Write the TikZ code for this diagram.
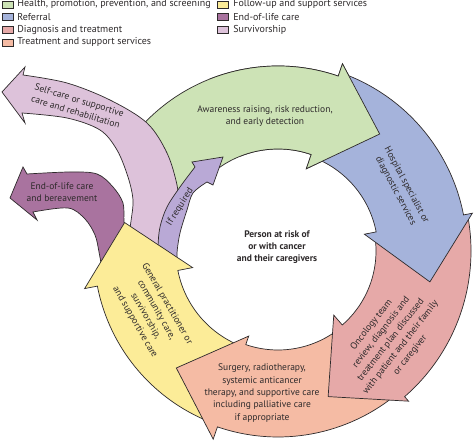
\documentclass[tikz,border=0pt]{standalone}
\usepackage{fontspec}
\setmainfont{PT Sans}
\usetikzlibrary{calc}

\definecolor{inkcol}{HTML}{2E2A2B}
\definecolor{healthgreen}{HTML}{CDE3B6}
\definecolor{referralblue}{HTML}{A5B3DB}
\definecolor{diagpink}{HTML}{E6A9A8}
\definecolor{treatsalmon}{HTML}{F5BBA4}
\definecolor{followyellow}{HTML}{FCEC98}
\definecolor{endpurple}{HTML}{A9739F}
\definecolor{survlilac}{HTML}{DDC2DA}
\definecolor{ifreqlav}{HTML}{B9A9D6}

\tikzset{every picture/.style={line width=0.7pt}}
\tikzset{
	flow/.style={draw=inkcol},
	lbl/.style={font=\fontsize{9.5}{12.3}\selectfont, text=inkcol, align=center, inner sep=0pt},
	legbox/.style={draw=inkcol, line width=0.5pt, minimum width=11pt, minimum height=7pt, inner sep=0pt},
	legtext/.style={font=\fontsize{10}{11}\selectfont, text=inkcol, anchor=west, inner sep=0pt}
}

\begin{document}
\begin{tikzpicture}[x=1pt,y=1pt]
				\fill[white] (0,0) rectangle (474,441);
				\useasboundingbox (0,0) rectangle (474,441);
				\coordinate (C) at (278,190); %ring centre
				%awareness (tail hidden later)
				\filldraw[flow,fill=healthgreen] ($(C)+(137:185)$) arc[start angle=137,end angle=71,radius=185] -- ($(C)+(71:198)$) -- ($(C)+(49:155)$) -- ($(C)+(71:87)$) -- ($(C)+(71:102)$) arc[start angle=71,end angle=127,radius=102] -- (205,263) -- (172,246) -- (140,311) -- cycle;
				%self-care
				\filldraw[flow,fill=survlilac] (23,366) -- (25,374) -- (2,349) -- (25,318) -- (22,328) -- plot[smooth,tension=0.55] coordinates {(22,328) (67,323) (100,311) (117,291) (128,264) (133,241) (131,220) (128,201)} -- (175,179) -- plot[smooth,tension=0.55] coordinates {(175,179) (176,201) (178,236) (177,256) (167,288) (147,318) (110,341) (67,358) (23,366)} -- cycle;
				%end of life
				\filldraw[flow,fill=endpurple] (27,267) -- (23,274) -- (10,243) -- (37,221) -- (33,229) -- plot[smooth,tension=0.55] coordinates {(33,229) (68,233) (85,222) (95,206) (99,189) (103,166)} -- (120,170) -- plot[smooth,tension=0.55] coordinates {(120,170) (126,205) (124,219) (123,238) (113,254) (97,267) (70,269) (27,267)} -- cycle;
				%if required
				\filldraw[flow,fill=ifreqlav] (195,274) -- plot[smooth,tension=0.55] coordinates {(195,274) (180,254) (167,234) (160,214) (158,194) (159,178)} -- (178,176) -- plot[smooth,tension=0.55] coordinates {(178,176) (177,188) (180,208) (187,231) (193,248) (207,259)} -- (213,256) -- (223,284) -- (192,279) -- cycle;
				%general practitioner
				\filldraw[flow,fill=followyellow] ($(C)+(-110:102)$) -- ($(C)+(-110:184)$) arc[start angle=-110,end angle=-169,radius=184] -- ($(C)+(-169:197)$) -- ($(C)+(-190.5:156)$) -- ($(C)+(-169:87)$) -- ($(C)+(-169:102)$) arc[start angle=-169,end angle=-110,radius=102] -- cycle;
				%surgery
				\filldraw[flow,fill=treatsalmon] ($(C)+(-50:99)$) -- ($(C)+(-50:186)$) arc[start angle=-50,end angle=-109,radius=186] -- ($(C)+(-109:199)$) -- ($(C)+(-131:155)$) -- ($(C)+(-109:90)$) -- ($(C)+(-109:99)$) arc[start angle=-109,end angle=-50,radius=99] -- cycle;
				%oncology team
				\filldraw[flow,fill=diagpink] ($(C)+(10:98)$) -- ($(C)+(10:193)$) arc[start angle=10,end angle=-49,radius=193] -- ($(C)+(-49:199)$) -- ($(C)+(-71:154)$) -- ($(C)+(-49:85)$) -- ($(C)+(-49:98)$) arc[start angle=-49,end angle=10,radius=98] -- cycle;
				%hospital
				\filldraw[flow,fill=referralblue] ($(C)+(70:100)$) -- ($(C)+(70:189)$) arc[start angle=70,end angle=11,radius=189] -- ($(C)+(11:198)$) -- ($(C)+(-11.5:155)$) -- ($(C)+(11:88)$) -- ($(C)+(11:100)$) arc[start angle=11,end angle=70,radius=100] -- cycle;
				%awareness head again, on top of the hospital tail
				\begin{scope} \clip (C) -- ($(C)+(112:260)$) -- ($(C)+(78:260)$) -- ($(C)+(44:260)$) -- cycle;
					\filldraw[flow,fill=healthgreen] ($(C)+(137:185)$) arc[start angle=137,end angle=71,radius=185] -- ($(C)+(71:198)$) -- ($(C)+(49:155)$) -- ($(C)+(71:87)$) -- ($(C)+(71:102)$) arc[start angle=71,end angle=127,radius=102] -- (205,263) -- (172,246) -- (140,311) -- cycle;
				\end{scope}
				%labels
				\node[lbl] (aware) at (265,325) {Awareness raising, risk reduction,\\and early detection};
				\node[lbl,rotate=-62] (hosp) at (401,253) {Hospital specialist or\\diagnostic services};
				\node[lbl,rotate=52] (onco) at (391,101) {Oncology team\\review, diagnosis and\\treatment plan discussed\\with patient and their family\\or caregiver};
				\node[lbl] (surg) at (262,48) {Surgery, radiotherapy,\\systemic anticancer\\therapy, and supportive care\\including palliative care\\if appropriate};
				\node[lbl,rotate=-60] (gp) at (151,128) {General practitioner or\\community care,\\survivorship,\\and supportive care};
				\node[lbl,rotate=-17] (self) at (77.5,335) {Self-care or supportive\\care and rehabilitation};
				\node[lbl] (eol) at (62,248.5) {End-of-life care\\and bereavement};
				\node[lbl,rotate=58] (ifreq) at (180,234) {If required};
				\node[lbl,font=\fontsize{9.5}{12.3}\selectfont\bfseries] (person) at (277,194) {Person at risk of\\or with cancer\\and their caregivers};
				%legend
				\node[legbox,fill=healthgreen] (lgA) at (7.5,436.7) {};
				\node[legtext] (lgAt) at (17,436.7) {Health, promotion, prevention, and screening};
				\node[legbox,fill=referralblue] (lgB) at (7.5,424) {};
				\node[legtext] (lgBt) at (17,424) {Referral};
				\node[legbox,fill=diagpink] (lgC) at (7.5,411.4) {};
				\node[legtext] (lgCt) at (17,411.4) {Diagnosis and treatment};
				\node[legbox,fill=treatsalmon] (lgD) at (7.5,398.7) {};
				\node[legtext] (lgDt) at (17,398.7) {Treatment and support services};
				\node[legbox,fill=followyellow] (lgE) at (223,436.7) {};
				\node[legtext] (lgEt) at (233,436.7) {Follow-up and support services};
				\node[legbox,fill=endpurple] (lgF) at (223,424) {};
				\node[legtext] (lgFt) at (233,424) {End-of-life care};
				\node[legbox,fill=survlilac] (lgG) at (223,411.4) {};
				\node[legtext] (lgGt) at (233,411.4) {Survivorship};
			\end{tikzpicture}
\end{document}
